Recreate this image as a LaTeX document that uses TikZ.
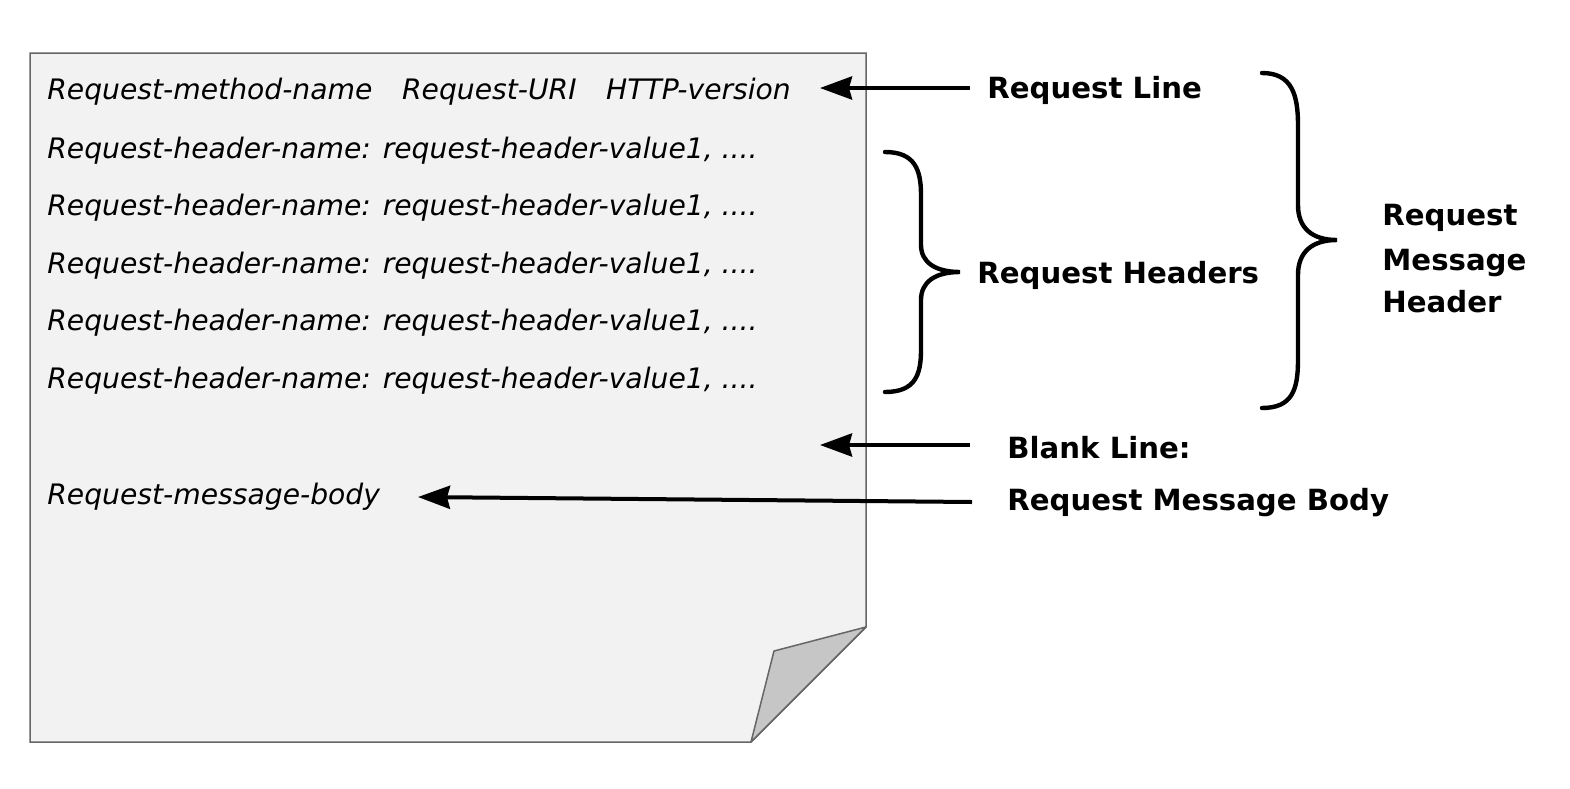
\documentclass[tikz,border=0pt]{standalone}
\usepackage{fontspec}
\setmainfont{DejaVu Sans}
\usetikzlibrary{arrows.meta}
\definecolor{paper}{HTML}{F2F2F2}
\definecolor{flap}{HTML}{C6C6C6}
\definecolor{edge}{HTML}{666666}
\tikzset{
  line/.style={font=\itshape\fontsize{14.1}{16}\selectfont, anchor=base west, inner sep=0pt},
  lbl/.style={font=\bfseries\fontsize{14.6}{17}\selectfont, anchor=base west, inner sep=0pt},
  arr/.style={line width=2pt, -{Stealth[length=16pt,width=11.5pt,inset=1.5pt]}},
  brace/.style={line width=2.2pt, line cap=round},
}
\begin{document}
\begin{tikzpicture}[x=0.5pt,y=-0.5pt]
\useasboundingbox (0,0) rectangle (1570,788);
% paper
\draw[edge, fill=paper, line width=0.75pt] (30,53) -- (866,53) -- (866,627) -- (751,742) -- (30,742) -- cycle;
\draw[edge, fill=flap, line width=0.75pt, line join=round] (866,627) -- (774,651) -- (751,742) -- cycle;
% text lines
\node[line] (l1) at (47,99) {Request-method-name\hspace{1.05em}Request-URI\hspace{1.05em}HTTP-version};
\node[line] (h1) at (47,158) {Request-header-name: request-header-value1, ....};
\node[line] (h2) at (47,215) {Request-header-name: request-header-value1, ....};
\node[line] (h3) at (47,273) {Request-header-name: request-header-value1, ....};
\node[line] (h4) at (47,330) {Request-header-name: request-header-value1, ....};
\node[line] (h5) at (47,388) {Request-header-name: request-header-value1, ....};
\node[line] (body) at (47,504) {Request-message-body};
% labels
\node[lbl] (rl) at (987,98) {Request Line};
\node[lbl] (rh) at (977,283) {Request Headers};
\node[lbl] (rm1) at (1382,225) {Request};
\node[lbl] (rm2) at (1382,270) {Message};
\node[lbl] (rm3) at (1382,312) {Header};
\node[lbl] (bl) at (1007,458) {Blank Line:};
\node[lbl] (rb) at (1007,510) {Request Message Body};
% arrow anchors
\coordinate (a1s) at (970,88);
\coordinate (a1e) at (820,88);
\coordinate (a2s) at (970,445);
\coordinate (a2e) at (820,445);
\coordinate (a3s) at (972,502);
\coordinate (a3e) at (418,497);
\draw[arr] (a1s) -- (a1e);
\draw[arr] (a2s) -- (a2e);
\draw[arr] (a3s) -- (a3e);
% small brace
\draw[brace] (885,152) .. controls (915,152) and (921,170) .. (921,195) -- (921,245)
  .. controls (921,262) and (935,272) .. (960,272)
  .. controls (935,272) and (921,282) .. (921,300) -- (921,350)
  .. controls (921,375) and (915,392) .. (885,392);
% big brace
\draw[brace] (1262,73) .. controls (1292,73) and (1298,95) .. (1298,125) -- (1298,205)
  .. controls (1298,228) and (1312,240) .. (1337,240)
  .. controls (1312,240) and (1298,252) .. (1298,275) -- (1298,360)
  .. controls (1298,390) and (1292,408) .. (1262,408);
\end{tikzpicture}
\end{document}
